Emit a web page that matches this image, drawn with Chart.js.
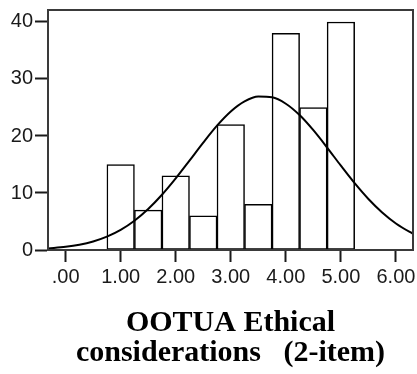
<!DOCTYPE html>
<html>
<head>
<meta charset="utf-8">
<script src="https://cdn.jsdelivr.net/npm/chart.js@4.4.0/dist/chart.umd.min.js"></script>
<style>
  html, body { margin: 0; padding: 0; background: #fff; }
  canvas { display: block; }
</style>
</head>
<body>
<canvas id="hist" width="417" height="374"></canvas>
<script>
// Histogram bins (centre of each 0.5-wide bin) and their frequencies
const binCenters = [1.0, 1.5, 2.0, 2.5, 3.0, 3.5, 4.0, 4.5, 5.0];
const counts = [15, 7, 13, 6, 22, 8, 38, 25, 40];

// Fitted normal curve, sampled along the x range
const curveX = [-0.32, 0, 0.25, 0.5, 0.75, 1.0, 1.25, 1.5, 1.75, 2.0, 2.25, 2.5, 2.75, 3.0, 3.25,
                3.5, 3.75, 4.0, 4.25, 4.5, 4.75, 5.0, 5.25, 5.5, 5.75, 6.0, 6.25, 6.32];
const curveY = [0.26, 0.55, 0.92, 1.5, 2.35, 3.54, 5.14, 7.19, 9.69, 12.56, 15.68, 18.84, 21.81, 24.3, 26.07,
                26.93, 26.79, 25.66, 23.67, 21.01, 17.97, 14.79, 11.72, 8.95, 6.58, 4.65, 3.17, 2.83];

// Axis ticks and title
const xTickValues = [0, 1, 2, 3, 4, 5, 6];
const xTickLabels = ['.00', '1.00', '2.00', '3.00', '4.00', '5.00', '6.00'];
const yTickValues = [0, 10, 20, 30, 40];
const xAxisTitle = ['OOTUA Ethical', 'considerations   (2-item)'];

const ink = '#1a1a1a';

// Box around the plotting area
const frame = {
  id: 'frame',
  afterDatasetsDraw(chart) {
    const { ctx, chartArea: a } = chart;
    ctx.save();
    ctx.strokeStyle = '#3a3a3a';
    ctx.lineWidth = 2;
    ctx.strokeRect(a.left, a.top, a.right - a.left, a.bottom - a.top);
    ctx.restore();
  }
};

new Chart(document.getElementById('hist'), {
  data: {
    datasets: [
      {
        type: 'line',
        order: 0,
        data: curveX.map((x, i) => ({ x, y: curveY[i] })),
        borderColor: '#000',
        borderWidth: 2,
        pointRadius: 0,
        cubicInterpolationMode: 'monotone',
        fill: false
      },
      {
        type: 'bar',
        order: 1,
        data: binCenters.map((x, i) => ({ x, y: counts[i] })),
        backgroundColor: '#fff',
        borderColor: '#000',
        borderWidth: 1.5,
        borderSkipped: false,
        barPercentage: 1,
        categoryPercentage: 1
      }
    ]
  },
  options: {
    responsive: false,
    animation: false,
    devicePixelRatio: 1,
    layout: { padding: { top: 10, right: 4, left: 0, bottom: 0 } },
    plugins: {
      legend: { display: false },
      tooltip: { enabled: false },
      title: { display: false }
    },
    scales: {
      x: {
        type: 'linear',
        offset: false,
        min: -0.32,
        max: 6.31,
        afterBuildTicks(scale) { scale.ticks = xTickValues.map(v => ({ value: v })); },
        afterFit(scale) {
          scale.height = 124;
          scale.paddingLeft = 0; scale.paddingRight = 0;
        },
        grid: { offset: false, drawOnChartArea: false, drawTicks: true, tickLength: 12, tickWidth: 2, tickColor: ink },
        border: { display: true, color: ink, width: 2 },
        ticks: {
          padding: 3,
          maxRotation: 0,
          autoSkip: false,
          color: ink,
          font: { family: '"Liberation Sans", Arial, sans-serif', size: 20 },
          callback: (v) => xTickLabels[xTickValues.indexOf(v)]
        },
        title: {
          display: true,
          text: xAxisTitle,
          color: '#000',
          font: { family: '"Liberation Serif", "Times New Roman", serif', size: 30, weight: 'bold', lineHeight: 1 },
          padding: { top: 0, bottom: 6 }
        }
      },
      y: {
        min: 0,
        max: 42.1,
        afterBuildTicks(scale) { scale.ticks = yTickValues.map(v => ({ value: v })); },
        afterFit(scale) {
          scale.width = 48;
          scale.paddingTop = 0; scale.paddingBottom = 0;
        },
        grid: { drawOnChartArea: false, drawTicks: true, tickLength: 13, tickWidth: 2, tickColor: ink },
        border: { display: true, color: ink, width: 2 },
        ticks: {
          padding: 2,
          color: ink,
          font: { family: '"Liberation Sans", Arial, sans-serif', size: 20 }
        }
      }
    }
  },
  plugins: [frame]
});
</script>
</body>
</html>
